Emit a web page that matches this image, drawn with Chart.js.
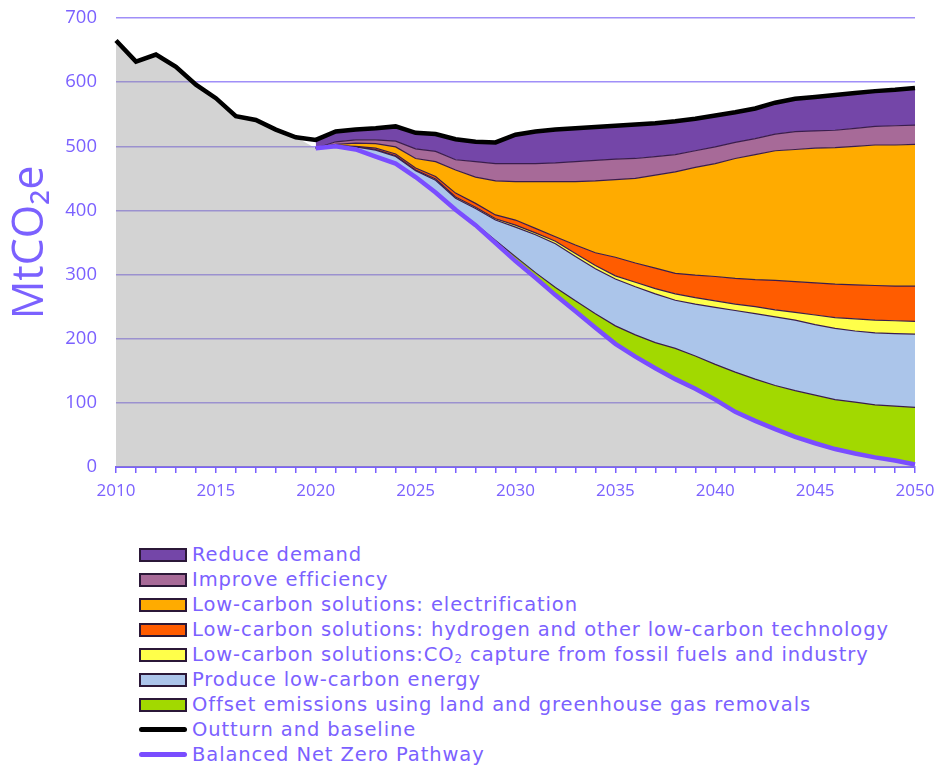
<!DOCTYPE html>
<html>
<head>
<meta charset="utf-8">
<script src="https://cdn.jsdelivr.net/npm/chart.js@4.4.1/dist/chart.umd.min.js"></script>
<style>
    body { margin: 0; background: #fff; width: 939px; height: 767px; overflow: hidden; font-family: "DejaVu Sans", sans-serif; }
    #wrap { position: absolute; left: 0; top: 0; width: 939px; height: 510px; }
    #legend { position: absolute; left: 139px; top: 542px; }
    .item { height: 25px; display: flex; align-items: center; color: #7b61ff; font-size: 19.5px; letter-spacing: 0.9px; white-space: nowrap; }
    .box { width: 44px; height: 10px; border: 2px solid #2b1838; margin-right: 5px; flex: none; }
    .line { width: 48px; height: 5px; border-radius: 3px; margin-right: 5px; flex: none; }
    sub { font-size: 0.6em; vertical-align: -0.2em; line-height: 0; }
</style>
</head>
<body>
<div id="wrap"><canvas id="chart" width="939" height="510"></canvas></div>
<div id="legend"></div>
<script>
var years = [2010, 2011, 2012, 2013, 2014, 2015, 2016, 2017, 2018, 2019,
    2020, 2021, 2022, 2023, 2024, 2025, 2026, 2027, 2028, 2029,
    2030, 2031, 2032, 2033, 2034, 2035, 2036, 2037, 2038, 2039,
    2040, 2041, 2042, 2043, 2044, 2045, 2046, 2047, 2048, 2049, 2050];

// MtCO2e, 2010-2050
var outturnBaseline = [665, 632, 643, 624, 596, 575, 547, 541, 526, 514,
    510, 523, 526, 528, 531, 521, 519, 511, 507, 506,
    518, 523, 526, 528, 530, 532, 534, 536, 539, 543,
    548, 553, 559, 568, 574, 577, 580, 583, 586, 588, 591];

// 2020-2050
var netZeroPathway = [497, 500, 495, 484, 473, 452, 428, 401, 377, 349,
    321, 295, 268, 243, 217, 192, 172, 154, 137, 122,
    105, 86, 72, 59, 47, 37, 28, 21, 15, 10, 4];

// abatement wedges, 2020-2050, stacked on top of the pathway
var offsetRemovals = [0, 0, 0.5, 1, 1, 1, 1, 1, 2, 4, 7, 8, 12, 16, 22, 28, 34, 40, 48, 51,
    55, 62, 65, 68, 72, 75, 77, 80, 82, 85, 89];
var lowCarbonEnergy = [0, 0.5, 3.5, 9, 10, 9, 18, 17, 24, 32, 46, 59, 68, 69, 70, 73, 75, 76, 75, 81,
    89, 96, 102, 107, 110, 110, 111, 111, 112, 113, 114];
var co2Capture = [0, 0, 0, 1, 1, 1, 2, 2, 2, 2, 3, 3, 4, 5, 5, 5, 7, 8, 10, 10,
    10, 10, 11, 11, 12, 15, 17, 19, 20, 20, 20];
var hydrogen = [0, 0.5, 1, 2, 3, 3, 4, 6, 6, 6, 8, 7, 7, 13, 20, 29, 30, 32, 32, 35,
    38, 40, 42, 46, 48, 50, 52, 53, 54, 54, 55];
var electrification = [0, 2, 5, 7, 11, 15, 23, 36, 41, 53, 60, 73, 86, 99, 112, 121, 132, 145, 158, 168,
    176, 187, 195, 202, 206, 210, 213, 216, 219, 220, 221];
var efficiency = [0, 4, 5, 6, 9, 15, 16, 16, 24, 27, 28, 28, 29, 31, 32, 32, 31, 29, 27, 26,
    26, 25, 25, 26, 28, 27, 27, 28, 29, 30, 30];
var demand = [13, 16, 16, 18, 23, 25, 27, 32, 31, 33, 45, 50, 52, 52, 52, 52, 53, 52, 52, 50,
    49, 47, 47, 49, 51, 53, 55, 55, 55, 56, 58];

var yTicks = [0, 100, 200, 300, 400, 500, 600, 700];

var textColor = '#7b61ff';
var outline = '#3a1d4c';
var pad = [null, null, null, null, null, null, null, null, null, null];

var wedges = [
    {label: 'Offset emissions using land and greenhouse gas removals', data: offsetRemovals, color: '#a2d900'},
    {label: 'Produce low-carbon energy', data: lowCarbonEnergy, color: '#abc5ea'},
    {label: 'Low-carbon solutions:CO<sub>2</sub> capture from fossil fuels and industry', data: co2Capture, color: '#ffff4a'},
    {label: 'Low-carbon solutions: hydrogen and other low-carbon technology', data: hydrogen, color: '#ff5c00'},
    {label: 'Low-carbon solutions: electrification', data: electrification, color: '#ffab00'},
    {label: 'Improve efficiency', data: efficiency, color: '#a76a98'},
    {label: 'Reduce demand', data: demand, color: '#7446a8'}
];

var datasets = [
    {
        label: 'Outturn and baseline',
        data: outturnBaseline,
        stack: 'baseline',
        borderColor: '#000',
        borderWidth: 4.5,
        fill: false
    },
    {
        label: 'Balanced Net Zero Pathway',
        data: pad.concat(netZeroPathway),
        stack: 'pathway',
        borderColor: '#7a4dff',
        borderWidth: 4.5,
        fill: false
    },
    {
        label: 'base',
        data: outturnBaseline.slice(0, 10).concat(netZeroPathway),
        stack: 'wedges',
        borderWidth: 0,
        backgroundColor: 'rgba(150,150,150,0.42)',
        fill: 'origin'
    }
];
wedges.forEach(function (w) {
    datasets.push({
        label: w.label,
        data: pad.concat(w.data),
        stack: 'wedges',
        borderColor: outline,
        borderWidth: 1.2,
        backgroundColor: w.color,
        fill: '-1'
    });
});

new Chart(document.getElementById('chart'), {
    type: 'line',
    data: {labels: years, datasets: datasets},
    options: {
        responsive: false,
        animation: false,
        layout: {padding: {top: 18, right: 24, left: 0, bottom: 0}},
        elements: {point: {radius: 0}, line: {tension: 0}},
        plugins: {legend: {display: false}, tooltip: {enabled: false}},
        scales: {
            x: {
                ticks: {
                    color: textColor,
                    font: {family: 'Open Sans', size: 17},
                    autoSkip: false,
                    maxRotation: 0,
                    padding: 8,
                    callback: function (val, idx) {
                        return years[idx] % 5 === 0 ? String(years[idx]) : '';
                    }
                },
                grid: {drawOnChartArea: false, color: textColor, tickLength: 6, lineWidth: 1.5},
                border: {color: textColor, width: 2},
                afterFit: function (scale) {
                    scale.height = 43;
                    scale.paddingLeft = 0;
                    scale.paddingRight = 0;
                }
            },
            y: {
                stacked: true,
                min: 0,
                max: 700,
                afterBuildTicks: function (scale) {
                    scale.ticks = yTicks.map(function (v) { return {value: v}; });
                },
                ticks: {
                    color: textColor,
                    font: {family: 'Open Sans', size: 18.5},
                    padding: 4
                },
                grid: {
                    color: 'rgba(120,95,245,0.7)',
                    lineWidth: 1.5,
                    drawTicks: true,
                    tickLength: 15,
                    tickColor: 'rgba(0,0,0,0)'
                },
                border: {display: false},
                title: {
                    display: true,
                    text: 'MtCO₂e',
                    color: textColor,
                    font: {family: 'Open Sans', size: 43},
                    padding: {top: 5, bottom: 0}
                },
                afterFit: function (scale) { scale.width = 116; }
            }
        }
    }
});

// legend below the chart
var legend = document.getElementById('legend');
var html = '';
wedges.slice().reverse().forEach(function (w) {
    html += '<div class="item"><span class="box" style="background:' + w.color + '"></span><span>' + w.label + '</span></div>';
});
html += '<div class="item"><span class="line" style="background:#000"></span><span>Outturn and baseline</span></div>';
html += '<div class="item"><span class="line" style="background:#7a4dff"></span><span>Balanced Net Zero Pathway</span></div>';
legend.innerHTML = html;
</script>
</body>
</html>
